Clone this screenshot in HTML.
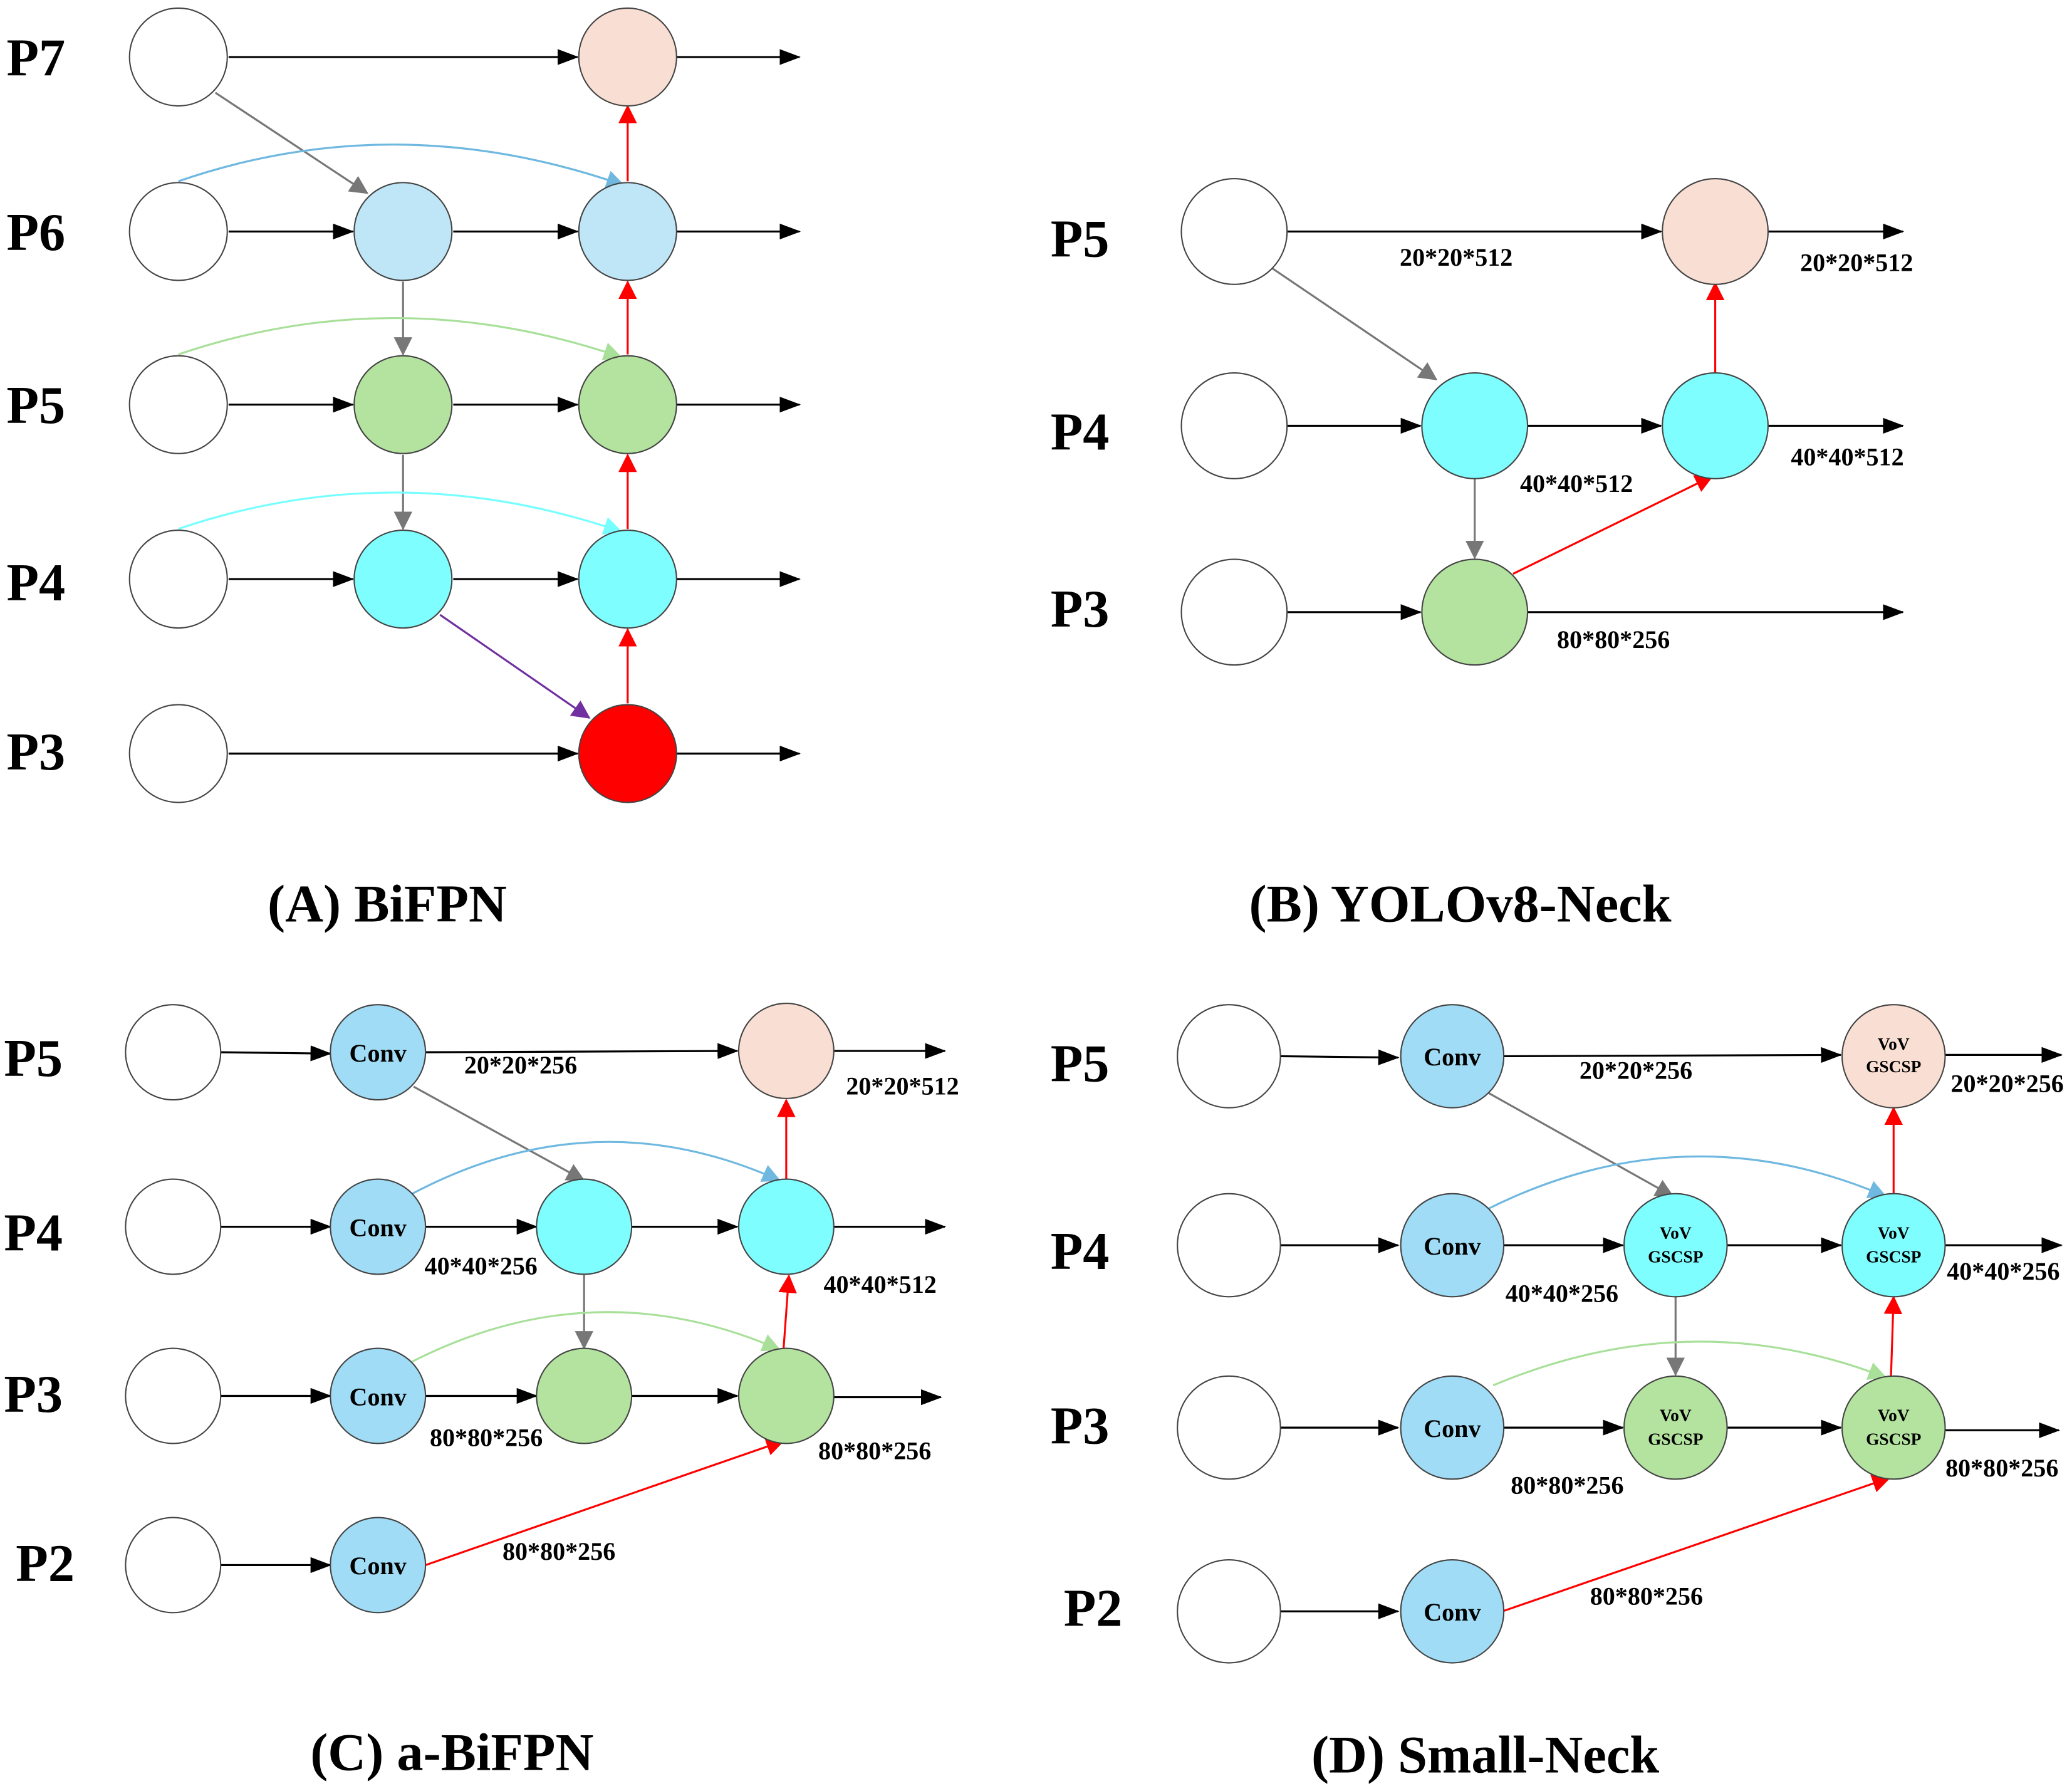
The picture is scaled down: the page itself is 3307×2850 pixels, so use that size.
<!DOCTYPE html>
<html><head><meta charset="utf-8"><style>
html,body{margin:0;padding:0;background:#fff;}
svg{display:block;}
text{font-family:"Liberation Serif",serif;font-weight:bold;fill:#000;}
.pl{font-size:40px;}
.t{font-size:40px;}
.s{font-size:19px;}
.c{font-size:19px;}
.v{font-size:13px;}
</style></head><body>
<svg width="3307" height="2850" viewBox="0 0 1568 1351" xmlns="http://www.w3.org/2000/svg">
<defs>
<marker id="k" markerWidth="16" markerHeight="12" refX="15" refY="6" orient="auto" markerUnits="userSpaceOnUse" viewBox="0 0 16 12"><path d="M0,0L16,6L0,12z" fill="#000"/></marker>
<marker id="r" markerWidth="14" markerHeight="14" refX="13" refY="7" orient="auto" markerUnits="userSpaceOnUse" viewBox="0 0 14 14"><path d="M0,0L14,7L0,14z" fill="#f00"/></marker>
<marker id="g" markerWidth="14" markerHeight="14" refX="13" refY="7" orient="auto" markerUnits="userSpaceOnUse" viewBox="0 0 14 14"><path d="M0,0L14,7L0,14z" fill="#777"/></marker>
<marker id="b" markerWidth="14" markerHeight="14" refX="13" refY="7" orient="auto" markerUnits="userSpaceOnUse" viewBox="0 0 14 14"><path d="M0,0L14,7L0,14z" fill="#6fb8e0"/></marker>
<marker id="gr" markerWidth="14" markerHeight="14" refX="13" refY="7" orient="auto" markerUnits="userSpaceOnUse" viewBox="0 0 14 14"><path d="M0,0L14,7L0,14z" fill="#a8e09a"/></marker>
<marker id="cy" markerWidth="14" markerHeight="14" refX="13" refY="7" orient="auto" markerUnits="userSpaceOnUse" viewBox="0 0 14 14"><path d="M0,0L14,7L0,14z" fill="#7ff"/></marker>
<marker id="pu" markerWidth="14" markerHeight="14" refX="13" refY="7" orient="auto" markerUnits="userSpaceOnUse" viewBox="0 0 14 14"><path d="M0,0L14,7L0,14z" fill="#7030a0"/></marker>
</defs>
<g stroke-width="1.5" fill="none">
<g stroke="#000" marker-end="url(#k)">
<line x1="173" y1="43" x2="437" y2="43"/><line x1="512" y1="43" x2="605" y2="43"/>
<line x1="173" y1="175" x2="267" y2="175"/><line x1="343" y1="175" x2="437" y2="175"/><line x1="512" y1="175" x2="605" y2="175"/>
<line x1="173" y1="306" x2="267" y2="306"/><line x1="343" y1="306" x2="437" y2="306"/><line x1="512" y1="306" x2="605" y2="306"/>
<line x1="173" y1="438" x2="267" y2="438"/><line x1="343" y1="438" x2="437" y2="438"/><line x1="512" y1="438" x2="605" y2="438"/>
<line x1="173" y1="570" x2="437" y2="570"/><line x1="512" y1="570" x2="605" y2="570"/>
</g>
<g stroke="#777" marker-end="url(#g)">
<line x1="163" y1="70" x2="278" y2="146"/>
<line x1="305" y1="213" x2="305" y2="268"/>
<line x1="305" y1="344" x2="305" y2="400"/>
</g>
<g stroke="#f00" marker-end="url(#r)">
<line x1="475" y1="137" x2="475" y2="80"/>
<line x1="475" y1="268" x2="475" y2="213"/>
<line x1="475" y1="400" x2="475" y2="344"/>
<line x1="475" y1="532" x2="475" y2="476"/>
</g>
<line x1="333" y1="465" x2="446" y2="543" stroke="#7030a0" marker-end="url(#pu)"/>
<path d="M135,137 Q300,80 472,140" stroke="#6fb8e0" marker-end="url(#b)"/>
<path d="M135,268 Q300,212 470,270" stroke="#a8e09a" marker-end="url(#gr)"/>
<path d="M135,400 Q300,344 470,402" stroke="#7ff" marker-end="url(#cy)"/>

<g stroke="#000" marker-end="url(#k)">
<line x1="974" y1="175" x2="1257" y2="175"/><line x1="1338" y1="175" x2="1440" y2="175"/>
<line x1="974" y1="322" x2="1075" y2="322"/><line x1="1156" y1="322" x2="1257" y2="322"/><line x1="1338" y1="322" x2="1440" y2="322"/>
<line x1="974" y1="463" x2="1075" y2="463"/><line x1="1156" y1="463" x2="1440" y2="463"/>
</g>
<g stroke="#777" marker-end="url(#g)">
<line x1="963" y1="203" x2="1087" y2="287"/>
<line x1="1116" y1="362" x2="1116" y2="422"/>
</g>
<g stroke="#f00" marker-end="url(#r)">
<line x1="1298" y1="282" x2="1298" y2="214"/>
<line x1="1145" y1="434" x2="1296" y2="360"/>
</g>

<g stroke="#000" marker-end="url(#k)">
<line x1="167" y1="796" x2="250" y2="797"/><line x1="322" y1="796" x2="558" y2="795"/><line x1="631" y1="795" x2="715" y2="795"/>
<line x1="167" y1="928" x2="250" y2="928"/><line x1="322" y1="928" x2="406" y2="928"/><line x1="478" y1="928" x2="558" y2="928"/><line x1="631" y1="928" x2="715" y2="928"/>
<line x1="167" y1="1056" x2="250" y2="1056"/><line x1="322" y1="1056" x2="406" y2="1056"/><line x1="478" y1="1056" x2="558" y2="1056"/><line x1="631" y1="1057" x2="712" y2="1057"/>
<line x1="167" y1="1184" x2="250" y2="1184"/>
</g>
<g stroke="#777" marker-end="url(#g)">
<line x1="313" y1="822" x2="442" y2="893"/>
<line x1="442" y1="964" x2="442" y2="1020"/>
</g>
<g stroke="#f00" marker-end="url(#r)">
<line x1="595" y1="892" x2="595" y2="832"/>
<line x1="593" y1="1020" x2="597" y2="965"/>
<line x1="322" y1="1184" x2="593" y2="1090"/>
</g>
<path d="M312,903 Q450,830 590,893" stroke="#6fb8e0" marker-end="url(#b)"/>
<path d="M312,1030 Q450,960 590,1021" stroke="#a8e09a" marker-end="url(#gr)"/>

<g stroke="#000" marker-end="url(#k)">
<line x1="968" y1="799" x2="1058" y2="800"/><line x1="1137" y1="799" x2="1393" y2="798"/><line x1="1471" y1="798" x2="1560" y2="798"/>
<line x1="968" y1="942" x2="1058" y2="942"/><line x1="1137" y1="942" x2="1228" y2="942"/><line x1="1306" y1="942" x2="1393" y2="942"/><line x1="1471" y1="942" x2="1560" y2="942"/>
<line x1="968" y1="1080" x2="1058" y2="1080"/><line x1="1137" y1="1080" x2="1228" y2="1080"/><line x1="1306" y1="1080" x2="1393" y2="1080"/><line x1="1471" y1="1082" x2="1558" y2="1082"/>
<line x1="968" y1="1219" x2="1058" y2="1219"/>
</g>
<g stroke="#777" marker-end="url(#g)">
<line x1="1125" y1="826" x2="1266" y2="905"/>
<line x1="1268" y1="980" x2="1268" y2="1040"/>
</g>
<g stroke="#f00" marker-end="url(#r)">
<line x1="1433" y1="903" x2="1433" y2="838"/>
<line x1="1431" y1="1042" x2="1433" y2="981"/>
<line x1="1137" y1="1219" x2="1430" y2="1118"/>
</g>
<path d="M1125,915 Q1275,840 1427,905" stroke="#6fb8e0" marker-end="url(#b)"/>
<path d="M1130,1048 Q1280,985 1427,1042" stroke="#a8e09a" marker-end="url(#gr)"/>
</g>

<g stroke="#444" stroke-width="1">
<circle cx="135" cy="43" r="37" fill="#fff"/><circle cx="475" cy="43" r="37" fill="#f9dfd3"/>
<circle cx="135" cy="175" r="37" fill="#fff"/><circle cx="305" cy="175" r="37" fill="#bfe6f7"/><circle cx="475" cy="175" r="37" fill="#bfe6f7"/>
<circle cx="135" cy="306" r="37" fill="#fff"/><circle cx="305" cy="306" r="37" fill="#b3e39f"/><circle cx="475" cy="306" r="37" fill="#b3e39f"/>
<circle cx="135" cy="438" r="37" fill="#fff"/><circle cx="305" cy="438" r="37" fill="#7ffeff"/><circle cx="475" cy="438" r="37" fill="#7ffeff"/>
<circle cx="135" cy="570" r="37" fill="#fff"/><circle cx="475" cy="570" r="37" fill="#f00"/>
<circle cx="934" cy="175" r="40" fill="#fff"/><circle cx="1298" cy="175" r="40" fill="#f9dfd3"/>
<circle cx="934" cy="322" r="40" fill="#fff"/><circle cx="1116" cy="322" r="40" fill="#7ffeff"/><circle cx="1298" cy="322" r="40" fill="#7ffeff"/>
<circle cx="934" cy="463" r="40" fill="#fff"/><circle cx="1116" cy="463" r="40" fill="#b3e39f"/>
<circle cx="131" cy="796" r="36" fill="#fff"/><circle cx="286" cy="796" r="36" fill="#a0dcf5"/><circle cx="595" cy="795" r="36" fill="#f9dfd3"/>
<circle cx="131" cy="928" r="36" fill="#fff"/><circle cx="286" cy="928" r="36" fill="#a0dcf5"/><circle cx="442" cy="928" r="36" fill="#7ffeff"/><circle cx="595" cy="928" r="36" fill="#7ffeff"/>
<circle cx="131" cy="1056" r="36" fill="#fff"/><circle cx="286" cy="1056" r="36" fill="#a0dcf5"/><circle cx="442" cy="1056" r="36" fill="#b3e39f"/><circle cx="595" cy="1056" r="36" fill="#b3e39f"/>
<circle cx="131" cy="1184" r="36" fill="#fff"/><circle cx="286" cy="1184" r="36" fill="#a0dcf5"/>
<circle cx="930" cy="799" r="39" fill="#fff"/><circle cx="1099" cy="799" r="39" fill="#a0dcf5"/><circle cx="1433" cy="799" r="39" fill="#f9dfd3"/>
<circle cx="930" cy="942" r="39" fill="#fff"/><circle cx="1099" cy="942" r="39" fill="#a0dcf5"/><circle cx="1268" cy="942" r="39" fill="#7ffeff"/><circle cx="1433" cy="942" r="39" fill="#7ffeff"/>
<circle cx="930" cy="1080" r="39" fill="#fff"/><circle cx="1099" cy="1080" r="39" fill="#a0dcf5"/><circle cx="1268" cy="1080" r="39" fill="#b3e39f"/><circle cx="1433" cy="1080" r="39" fill="#b3e39f"/>
<circle cx="930" cy="1219" r="39" fill="#fff"/><circle cx="1099" cy="1219" r="39" fill="#a0dcf5"/>
</g>

<text class="pl" x="5" y="57">P7</text>
<text class="pl" x="5" y="189">P6</text>
<text class="pl" x="5" y="320">P5</text>
<text class="pl" x="5" y="454">P4</text>
<text class="pl" x="5" y="582">P3</text>
<text class="t" x="293" y="697" text-anchor="middle">(A) BiFPN</text>

<text class="pl" x="795" y="194">P5</text>
<text class="pl" x="795" y="340">P4</text>
<text class="pl" x="795" y="474">P3</text>
<text class="t" x="1105" y="697" text-anchor="middle">(B) YOLOv8-Neck</text>
<text class="s" x="1102" y="201" text-anchor="middle">20*20*512</text>
<text class="s" x="1405" y="205" text-anchor="middle">20*20*512</text>
<text class="s" x="1193" y="372" text-anchor="middle">40*40*512</text>
<text class="s" x="1398" y="352" text-anchor="middle">40*40*512</text>
<text class="s" x="1221" y="490" text-anchor="middle">80*80*256</text>

<text class="pl" x="3" y="814">P5</text>
<text class="pl" x="3" y="946">P4</text>
<text class="pl" x="3" y="1068">P3</text>
<text class="pl" x="12" y="1196">P2</text>
<text class="t" x="342" y="1339" text-anchor="middle">(C) a-BiFPN</text>
<text class="c" x="286" y="803" text-anchor="middle">Conv</text>
<text class="c" x="286" y="935" text-anchor="middle">Conv</text>
<text class="c" x="286" y="1063" text-anchor="middle">Conv</text>
<text class="c" x="286" y="1191" text-anchor="middle">Conv</text>
<text class="s" x="394" y="812" text-anchor="middle">20*20*256</text>
<text class="s" x="683" y="828" text-anchor="middle">20*20*512</text>
<text class="s" x="364" y="964" text-anchor="middle">40*40*256</text>
<text class="s" x="666" y="978" text-anchor="middle">40*40*512</text>
<text class="s" x="368" y="1094" text-anchor="middle">80*80*256</text>
<text class="s" x="662" y="1104" text-anchor="middle">80*80*256</text>
<text class="s" x="423" y="1180" text-anchor="middle">80*80*256</text>

<text class="pl" x="795" y="818">P5</text>
<text class="pl" x="795" y="960">P4</text>
<text class="pl" x="795" y="1092">P3</text>
<text class="pl" x="805" y="1230">P2</text>
<text class="t" x="1124" y="1341" text-anchor="middle">(D) Small-Neck</text>
<text class="c" x="1099" y="806" text-anchor="middle">Conv</text>
<text class="c" x="1099" y="949" text-anchor="middle">Conv</text>
<text class="c" x="1099" y="1087" text-anchor="middle">Conv</text>
<text class="c" x="1099" y="1226" text-anchor="middle">Conv</text>
<text class="v" x="1433" y="794" text-anchor="middle">VoV</text><text class="v" x="1433" y="811" text-anchor="middle">GSCSP</text>
<text class="v" x="1268" y="937" text-anchor="middle">VoV</text><text class="v" x="1268" y="955" text-anchor="middle">GSCSP</text>
<text class="v" x="1433" y="937" text-anchor="middle">VoV</text><text class="v" x="1433" y="955" text-anchor="middle">GSCSP</text>
<text class="v" x="1268" y="1075" text-anchor="middle">VoV</text><text class="v" x="1268" y="1093" text-anchor="middle">GSCSP</text>
<text class="v" x="1433" y="1075" text-anchor="middle">VoV</text><text class="v" x="1433" y="1093" text-anchor="middle">GSCSP</text>
<text class="s" x="1238" y="816" text-anchor="middle">20*20*256</text>
<text class="s" x="1519" y="826" text-anchor="middle">20*20*256</text>
<text class="s" x="1182" y="985" text-anchor="middle">40*40*256</text>
<text class="s" x="1516" y="968" text-anchor="middle">40*40*256</text>
<text class="s" x="1186" y="1130" text-anchor="middle">80*80*256</text>
<text class="s" x="1515" y="1117" text-anchor="middle">80*80*256</text>
<text class="s" x="1246" y="1214" text-anchor="middle">80*80*256</text>
</svg>
</body></html>
